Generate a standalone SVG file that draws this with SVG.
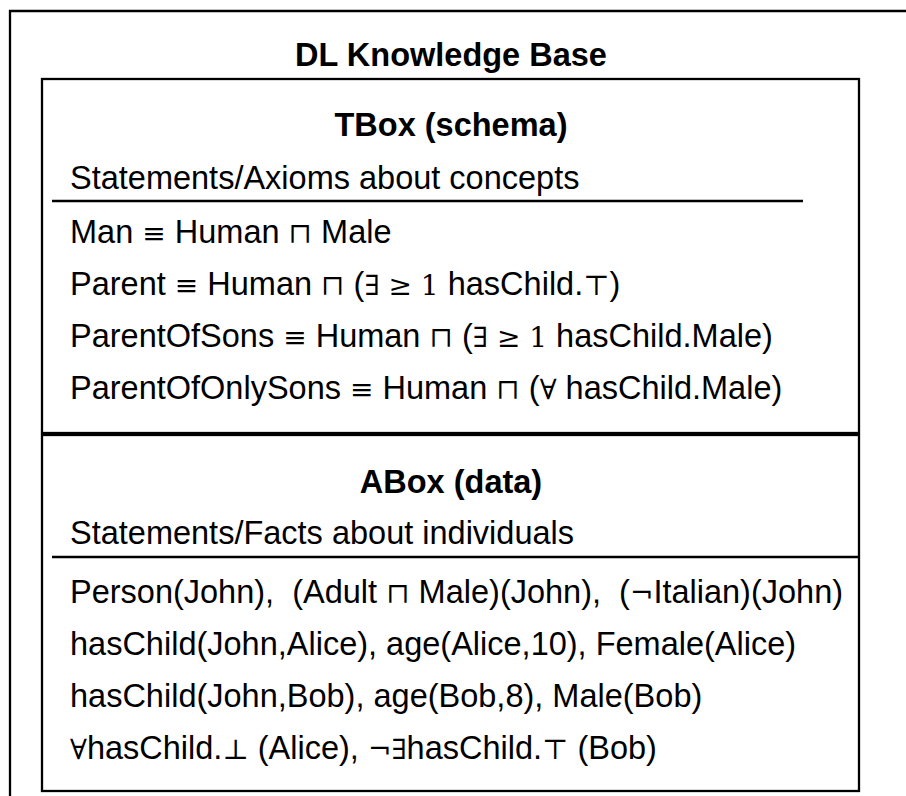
<svg xmlns="http://www.w3.org/2000/svg" width="906" height="796" viewBox="0 0 906 796">
<style>
.box{fill:none;stroke:#000;stroke-width:2.3}
.sep{stroke:#000;stroke-width:2.5}
.t{font-family:"Liberation Sans",Arial,Helvetica,sans-serif;font-size:32.5px;fill:#000}
.h{font-family:"Liberation Sans",Arial,Helvetica,sans-serif;font-size:32.5px;font-weight:bold;fill:#000;text-anchor:middle}
.m{font-family:"DejaVu Serif","Liberation Serif",serif;font-size:28px}
</style>
<rect width="906" height="796" fill="#fff"/>
<g id="kb">
<path class="box" d="M10,797 V11 H907"/>
<text class="h" x="451" y="66">DL Knowledge Base</text>
</g>
<g id="tbox">
<rect class="box" x="42" y="79" width="817" height="354"/>
<text class="h" x="451" y="136">TBox (schema)</text>
<text class="t" x="70" y="189">Statements/Axioms about concepts</text>
<line class="sep" x1="52" y1="201" x2="803" y2="201"/>
<text class="t" x="70" y="243">Man <tspan class="m">≡</tspan> Human <tspan class="m">⊓</tspan> Male</text>
<text class="t" x="70" y="295">Parent <tspan class="m">≡</tspan> Human <tspan class="m">⊓</tspan> (<tspan class="m">∃ ≥ 1</tspan> hasChild.<tspan class="m">⊤</tspan>)</text>
<text class="t" x="70" y="347">ParentOfSons <tspan class="m">≡</tspan> Human <tspan class="m">⊓</tspan> (<tspan class="m">∃ ≥ 1</tspan> hasChild.Male)</text>
<text class="t" x="70" y="399">ParentOfOnlySons <tspan class="m">≡</tspan> Human <tspan class="m">⊓</tspan> (<tspan class="m">∀</tspan> hasChild.Male)</text>
</g>
<g id="abox">
<rect class="box" x="42" y="435" width="817" height="356"/>
<text class="h" x="451" y="493">ABox (data)</text>
<text class="t" x="70" y="544">Statements/Facts about individuals</text>
<line class="sep" x1="52" y1="557" x2="859" y2="557"/>
<text class="t" x="70" y="603">Person(John),&#160; (Adult <tspan class="m">⊓</tspan> Male)(John),&#160; (<tspan class="m">¬</tspan>Italian)(John)</text>
<text class="t" x="70" y="655">hasChild(John,Alice), age(Alice,10), Female(Alice)</text>
<text class="t" x="70" y="707">hasChild(John,Bob), age(Bob,8), Male(Bob)</text>
<text class="t" x="70" y="759"><tspan class="m">∀</tspan>hasChild.<tspan class="m">⊥</tspan> (Alice), <tspan class="m">¬∃</tspan>hasChild.<tspan class="m">⊤</tspan> (Bob)</text>
</g>
<g id="connectors"/>
</svg>
